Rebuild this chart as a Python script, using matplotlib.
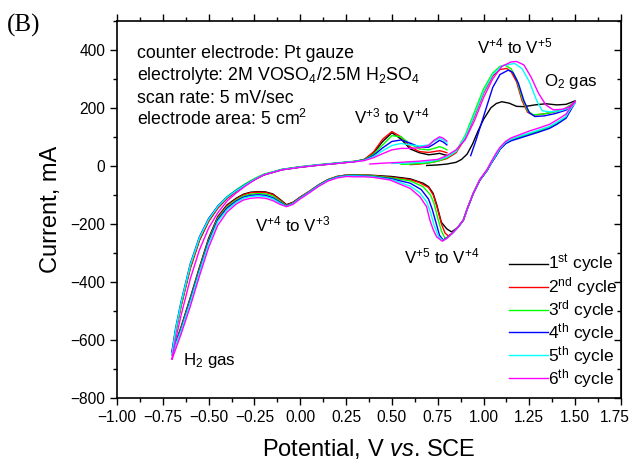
import matplotlib
matplotlib.use("Agg")
import matplotlib.pyplot as plt
import matplotlib.transforms as mtransforms
from matplotlib.ticker import MultipleLocator

plt.rcParams['font.family'] = ['Liberation Sans', 'DejaVu Sans']
plt.rcParams['mathtext.fontset'] = 'custom'
plt.rcParams['mathtext.rm'] = 'Liberation Sans'
plt.rcParams['mathtext.it'] = 'Liberation Sans:italic'
plt.rcParams['mathtext.bf'] = 'Liberation Sans:bold'

# ---- data (potential V vs SCE, current mA) ----
labels = ['1$^{\\mathrm{st}}$ cycle', '2$^{\\mathrm{nd}}$ cycle', '3$^{\\mathrm{rd}}$ cycle',
          '4$^{\\mathrm{th}}$ cycle', '5$^{\\mathrm{th}}$ cycle', '6$^{\\mathrm{th}}$ cycle']
colors = ['#000000', '#ff0000', '#00ff00', '#0000ff', '#00ffff', '#ff00ff']

# anodic scan from the start potential up to 1.5 V
c1_up_v = [0.69, 0.75, 0.80, 0.85, 0.88, 0.91, 0.94, 0.97, 1.00, 1.04, 1.07, 1.10, 1.14, 1.18, 1.22, 1.28, 1.34, 1.40, 1.45, 1.50]
c1_up_i = [1, 3, 6, 12, 22, 40, 75, 120, 160, 200, 215, 221, 216, 205, 204, 210, 214, 210, 212, 224]
c2_up_v = [0.60, 0.65, 0.70, 0.75, 0.80, 0.85, 0.90, 0.95, 1.00, 1.05, 1.09, 1.126, 1.15, 1.18, 1.21, 1.24, 1.27, 1.32, 1.38, 1.44, 1.50]
c2_up_i = [4, 6, 10, 16, 25, 45, 95, 170, 250, 310, 332, 336, 325, 290, 225, 185, 175, 178, 185, 195, 220]
c3_up_v = [0.55, 0.60, 0.70, 0.75, 0.80, 0.85, 0.90, 0.95, 1.00, 1.05, 1.09, 1.117, 1.15, 1.18, 1.21, 1.24, 1.27, 1.32, 1.38, 1.44, 1.50]
c3_up_i = [5, 6, 10, 16, 28, 50, 105, 185, 265, 320, 343, 347, 335, 300, 235, 190, 176, 178, 185, 195, 220]
c4_up_v = [0.93, 0.96, 1.00, 1.05, 1.09, 1.135, 1.16, 1.19, 1.22, 1.25, 1.28, 1.33, 1.39, 1.45, 1.50]
c4_up_i = [35, 90, 170, 270, 315, 330, 322, 285, 225, 183, 170, 172, 180, 192, 218]
c5_up_v = [0.50, 0.60, 0.70, 0.75, 0.80, 0.85, 0.90, 0.95, 1.00, 1.05, 1.10, 1.17, 1.21, 1.25, 1.29, 1.32, 1.36, 1.42, 1.47, 1.50]
c5_up_i = [8, 10, 14, 20, 30, 50, 100, 175, 255, 315, 345, 353, 335, 290, 225, 190, 186, 190, 200, 218]
c6_up_v = [0.38, 0.45, 0.55, 0.65, 0.75, 0.80, 0.85, 0.90, 0.95, 1.00, 1.05, 1.10, 1.15, 1.18, 1.22, 1.26, 1.30, 1.34, 1.38, 1.43, 1.47, 1.50]
c6_up_i = [6, 9, 12, 16, 22, 35, 55, 90, 155, 235, 300, 343, 358, 360, 348, 305, 250, 210, 193, 195, 203, 222]

# cathodic scan from 1.5 V down to 0.35 V (V5 -> V4 wave)
c1_dn_v = [1.47, 1.45, 1.40, 1.36, 1.30, 1.25, 1.20, 1.15, 1.12, 1.09, 1.07, 1.04, 1.02, 0.98, 0.944, 0.91, 0.89, 0.86, 0.826, 0.80, 0.77, 0.745, 0.725, 0.70, 0.67, 0.60, 0.50, 0.40, 0.35]
c1_dn_i = [190, 168, 147, 133, 120, 110, 100, 89, 78, 58, 37, 8, -15, -49, -95, -150, -187, -212, -228, -218, -195, -135, -95, -72, -60, -45, -37, -33, -32]
c2_dn_v = [1.47, 1.45, 1.40, 1.36, 1.30, 1.25, 1.20, 1.15, 1.12, 1.09, 1.07, 1.04, 1.02, 0.98, 0.944, 0.91, 0.89, 0.86, 0.83, 0.808, 0.79, 0.77, 0.745, 0.725, 0.70, 0.65, 0.60, 0.50, 0.40, 0.35]
c2_dn_i = [190, 168, 147, 133, 120, 110, 100, 89, 78, 58, 37, 8, -15, -49, -95, -150, -187, -212, -232, -242, -232, -200, -140, -100, -75, -58, -48, -40, -34, -32]
c3_dn_v = [1.47, 1.45, 1.40, 1.36, 1.30, 1.25, 1.20, 1.15, 1.12, 1.09, 1.07, 1.04, 1.02, 0.98, 0.944, 0.91, 0.89, 0.86, 0.83, 0.81, 0.79, 0.77, 0.75, 0.73, 0.71, 0.67, 0.60, 0.50, 0.40, 0.35]
c3_dn_i = [190, 168, 147, 133, 120, 110, 100, 89, 78, 58, 37, 8, -15, -49, -95, -150, -187, -212, -232, -245, -250, -225, -180, -130, -100, -72, -52, -42, -35, -33]
c4_dn_v = [1.47, 1.45, 1.40, 1.36, 1.30, 1.25, 1.20, 1.15, 1.12, 1.09, 1.07, 1.04, 1.02, 0.98, 0.944, 0.91, 0.89, 0.86, 0.83, 0.80, 0.78, 0.76, 0.74, 0.72, 0.70, 0.66, 0.60, 0.50, 0.40, 0.35]
c4_dn_i = [186, 164, 143, 129, 116, 106, 96, 86, 76, 57, 36, 7, -16, -50, -96, -151, -188, -213, -233, -248, -256, -240, -195, -150, -115, -82, -60, -45, -37, -35]
c5_dn_v = [1.47, 1.45, 1.40, 1.36, 1.30, 1.25, 1.20, 1.15, 1.12, 1.09, 1.07, 1.04, 1.02, 0.98, 0.944, 0.91, 0.89, 0.86, 0.83, 0.80, 0.78, 0.755, 0.73, 0.71, 0.69, 0.65, 0.60, 0.50, 0.40, 0.35]
c5_dn_i = [192, 170, 150, 136, 123, 113, 103, 92, 81, 60, 39, 9, -14, -48, -95, -150, -187, -212, -233, -250, -258, -245, -205, -160, -125, -92, -70, -48, -38, -36]
c6_dn_v = [1.47, 1.45, 1.40, 1.36, 1.30, 1.25, 1.20, 1.15, 1.12, 1.09, 1.07, 1.04, 1.02, 0.98, 0.944, 0.91, 0.89, 0.86, 0.83, 0.80, 0.775, 0.744, 0.725, 0.707, 0.689, 0.653, 0.60, 0.49, 0.40, 0.35]
c6_dn_i = [198, 178, 158, 143, 130, 120, 108, 96, 84, 64, 45, 12, -12, -47, -95, -150, -187, -212, -232, -250, -260, -245, -220, -187, -141, -107, -78, -49, -40, -38]

# cathodic scan 0.30 V -> -0.70 V (V4 -> V3 wave, H2 evolution)
v_rev_low = [0.30, 0.25, 0.20, 0.15, 0.10, 0.05, 0.00, -0.04, -0.075, -0.11, -0.15, -0.19, -0.23, -0.27, -0.31, -0.35, -0.40, -0.45, -0.50, -0.55, -0.60, -0.65, -0.70]
c1_rl_i = [-31, -32, -37, -48, -66, -88, -108, -126, -134, -116, -97, -90, -89, -91, -98, -112, -135, -175, -250, -350, -455, -555, -648]
c2_rl_i = [-31, -32, -37, -48, -66, -88, -108, -127, -136, -118, -99, -92, -91, -93, -100, -115, -138, -178, -255, -355, -460, -560, -652]
c3_rl_i = [-32, -33, -38, -49, -67, -89, -110, -129, -138, -122, -104, -97, -96, -98, -104, -118, -142, -182, -258, -358, -462, -562, -655]
c4_rl_i = [-33, -34, -39, -50, -68, -90, -111, -130, -139, -126, -110, -102, -100, -102, -108, -122, -146, -186, -262, -362, -465, -565, -645]
c5_rl_i = [-35, -35, -40, -51, -69, -91, -112, -131, -140, -129, -114, -106, -104, -106, -112, -126, -152, -192, -268, -366, -470, -568, -650]
c6_rl_i = [-38, -37, -42, -53, -71, -93, -114, -133, -141, -133, -120, -112, -110, -112, -118, -132, -160, -205, -282, -380, -485, -580, -668]

# anodic scan -0.70 V -> 0.80 V (V3 -> V4 wave)
v_fwd_low = [-0.70, -0.68, -0.65, -0.60, -0.55, -0.50, -0.45, -0.40, -0.35, -0.30, -0.25, -0.20, -0.10, 0.00, 0.10, 0.20, 0.30, 0.35, 0.40, 0.45, 0.50, 0.55, 0.60, 0.65, 0.70, 0.73, 0.76, 0.78, 0.80]
c1_fl_i = [-645, -570, -480, -350, -255, -190, -145, -112, -88, -67, -48, -32, -14, -5, 2, 8, 15, 22, 44, 84, 114, 92, 58, 45, 38, 40, 43, 39, 36]
c2_fl_i = [-650, -575, -485, -355, -258, -192, -146, -113, -88, -67, -47, -31, -13, -4, 3, 9, 15, 22, 48, 92, 118, 100, 65, 49, 46, 49, 52, 49, 45]
c3_fl_i = [-655, -572, -478, -345, -250, -185, -140, -107, -83, -62, -44, -29, -12, -3, 4, 10, 16, 21, 40, 72, 104, 100, 75, 58, 55, 60, 66, 62, 55]
c4_fl_i = [-640, -560, -468, -338, -245, -182, -139, -108, -85, -65, -47, -31, -13, -4, 3, 9, 15, 20, 36, 62, 84, 89, 78, 65, 64, 75, 88, 82, 72]
c5_fl_i = [-648, -565, -472, -342, -248, -185, -141, -109, -86, -66, -47, -31, -13, -4, 3, 9, 15, 19, 32, 52, 70, 77, 72, 68, 72, 85, 95, 90, 78]
c6_fl_i = [-665, -600, -515, -390, -290, -215, -162, -122, -94, -70, -49, -32, -14, -5, 2, 8, 14, 18, 28, 42, 55, 60, 60, 62, 70, 88, 100, 95, 85]

up_v = [c1_up_v, c2_up_v, c3_up_v, c4_up_v, c5_up_v, c6_up_v]
up_i = [c1_up_i, c2_up_i, c3_up_i, c4_up_i, c5_up_i, c6_up_i]
dn_v = [c1_dn_v, c2_dn_v, c3_dn_v, c4_dn_v, c5_dn_v, c6_dn_v]
dn_i = [c1_dn_i, c2_dn_i, c3_dn_i, c4_dn_i, c5_dn_i, c6_dn_i]
rl_i = [c1_rl_i, c2_rl_i, c3_rl_i, c4_rl_i, c5_rl_i, c6_rl_i]
fl_i = [c1_fl_i, c2_fl_i, c3_fl_i, c4_fl_i, c5_fl_i, c6_fl_i]


def main():
    fig = plt.figure(figsize=(6.34, 4.63), dpi=100)
    ax = fig.add_axes([0.1845, 0.141, 0.795, 0.814])

    for k in range(6):
        v = up_v[k] + dn_v[k] + v_rev_low + v_fwd_low
        cur = up_i[k] + dn_i[k] + rl_i[k] + fl_i[k]
        ax.plot(v, cur, color=colors[k], lw=1.0, label=labels[k])

    ax.set_xlim(-1.0, 1.75)
    ax.set_ylim(-800, 500)
    ax.set_xticks([-1.0, -0.75, -0.5, -0.25, 0.0, 0.25, 0.5, 0.75, 1.0, 1.25, 1.5, 1.75])
    ax.xaxis.set_minor_locator(MultipleLocator(0.125))
    ax.yaxis.set_minor_locator(MultipleLocator(100))
    ax.set_yticks([-800, -600, -400, -200, 0, 200, 400])
    ax.xaxis.set_major_formatter(plt.FuncFormatter(lambda x, p: f"{x:.2f}".replace('-', '\u2212')))
    ax.tick_params(axis='x', which='both', direction='out', top=True, labelsize=11.2)
    ax.tick_params(axis='y', which='both', direction='out', right=False, labelsize=11.2)
    ax.tick_params(which='major', length=5, width=1)
    ax.tick_params(which='minor', length=3, width=1)
    for s in ax.spines.values():
        s.set_linewidth(1.2)

    sec = ax.secondary_yaxis('right')
    sec.yaxis.set_major_locator(MultipleLocator(200))
    sec.yaxis.set_minor_locator(MultipleLocator(100))
    sec.tick_params(which='both', direction='in', labelright=False)
    sec.tick_params(which='major', length=5, width=1)
    sec.tick_params(which='minor', length=3, width=1)

    ax.set_xlabel('Potential, V $\\mathit{vs}$. SCE', fontsize=17, labelpad=9)
    ax.set_ylabel('Current, mA', fontsize=17, labelpad=6)

    # the last x tick label sits a little left of its tick, as in the original
    fig.canvas.draw()
    for lab in ax.get_xticklabels():
        if lab.get_text() == '1.75':
            lab.set_transform(lab.get_transform()
                              + mtransforms.ScaledTranslation(-0.06, 0, fig.dpi_scale_trans))

    info = ['counter electrode: Pt gauze',
            'electrolyte: 2M VOSO$_4$/2.5M H$_2$SO$_4$',
            'scan rate: 5 mV/sec',
            'electrode area: 5 cm$^2$']
    info_y = [373, 296, 218, 140]
    for t, y in zip(info, info_y):
        ax.text(-0.891, y, t, fontsize=12.8, va='baseline', ha='left')

    ax.text(0.499, 169, 'V$^{+3}$ to V$^{+4}$', fontsize=12.2, ha='center', va='center')
    ax.text(1.171, 410, 'V$^{+4}$ to V$^{+5}$', fontsize=12.2, ha='center', va='center')
    ax.text(1.477, 290, 'O$_2$ gas', fontsize=12.2, ha='center', va='center')
    ax.text(-0.043, -204, 'V$^{+4}$ to V$^{+3}$', fontsize=12.2, ha='center', va='center')
    ax.text(0.770, -314, 'V$^{+5}$ to V$^{+4}$', fontsize=12.2, ha='center', va='center')
    ax.text(-0.494, -670, 'H$_2$ gas', fontsize=12.2, ha='center', va='center')

    fig.text(0.011, 0.946, '(B)', fontsize=18, family='Liberation Serif', va='center')

    ax.legend(loc='lower right', bbox_to_anchor=(1.008, 0.0), frameon=False, fontsize=12.5,
              handlelength=2.25, handletextpad=0.0, labelspacing=0.0,
              borderaxespad=0.0, borderpad=0.45)

    fig.savefig('out.png', dpi=100)


if __name__ == "__main__":
    main()
